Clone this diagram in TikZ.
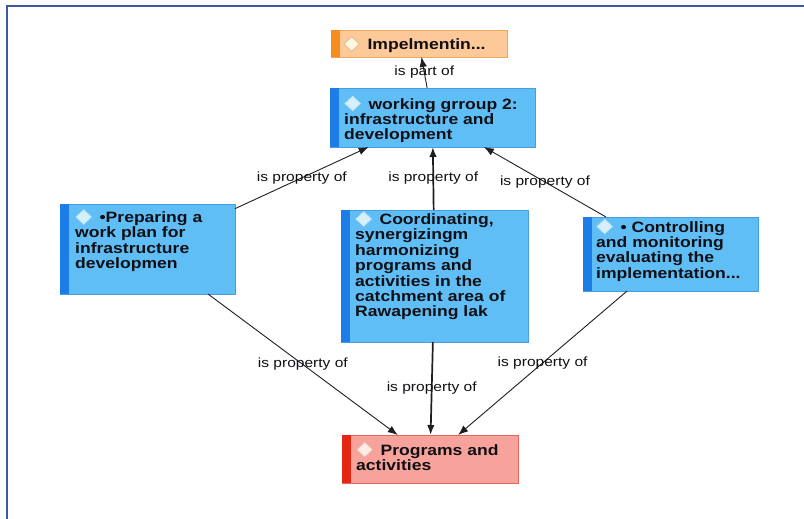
\documentclass[tikz,border=0pt]{standalone}
\usepackage{fontspec}
\usetikzlibrary{arrows.meta}
\newfontfamily\bxf[FakeStretch=1.17]{Liberation Sans}
\definecolor{blfill}{RGB}{96,190,246}
\definecolor{blborder}{RGB}{70,158,225}
\definecolor{blbar}{RGB}{28,124,232}
\definecolor{orfill}{RGB}{253,201,152}
\definecolor{orborder}{RGB}{240,165,95}
\definecolor{orbar}{RGB}{246,140,30}
\definecolor{rdfill}{RGB}{247,162,154}
\definecolor{rdborder}{RGB}{226,104,92}
\definecolor{rdbar}{RGB}{226,40,20}
\definecolor{framec}{RGB}{58,90,158}
\definecolor{linec}{RGB}{30,30,30}
\definecolor{txtc}{RGB}{15,15,20}
\definecolor{dblfill}{RGB}{214,240,250}
\definecolor{dbldraw}{RGB}{185,225,242}
\definecolor{dorfill}{RGB}{255,246,224}
\definecolor{dordraw}{RGB}{212,188,140}
\definecolor{drdfill}{RGB}{255,236,230}
\definecolor{drddraw}{RGB}{228,196,186}
\newcommand{\dia}[2]{\tikz[baseline=0pt]{\path[use as bounding box] (0pt,-2pt) rectangle (19.5pt,13pt);\draw[fill=#1,draw=#2,line width=0.7pt] (8.5pt,-1.8pt) -- (16.3pt,5.5pt) -- (8.5pt,12.8pt) -- (0.7pt,5.5pt) -- cycle;}}
\begin{document}
\begin{tikzpicture}[x=1pt,y=-1pt,
  box/.style={draw=#1border, fill=#1fill, line width=0.7pt, anchor=north west, inner sep=0pt, outer sep=0pt},
  btxt/.style={anchor=base west, inner sep=0pt, align=left, text=txtc, font=\bxf\bfseries\fontsize{15}{15.4}\selectfont},
  conn/.style={draw=linec, line width=0.9pt, -{Latex[length=10pt,width=7.5pt]}},
  conn2/.style={conn, line width=1.7pt},
  lab/.style={font=\bxf\fontsize{13.3}{15}\selectfont, text=txtc, inner sep=1pt}]
\useasboundingbox (0,0) rectangle (804,519);
% frame
\draw[framec, line width=2.5pt] (7,519) -- (7,6) -- (804,6);
% boxes
\node[box=or, minimum width=176, minimum height=27] (imp) at (331,30) {};
\node[box=bl, minimum width=205, minimum height=59] (wg) at (330,88) {};
\node[box=bl, minimum width=175, minimum height=90] (lb) at (60,204) {};
\node[box=bl, minimum width=187, minimum height=132] (cb) at (341,210) {};
\node[box=bl, minimum width=175, minimum height=74] (rb) at (583,217) {};
\node[box=rd, minimum width=176, minimum height=48] (bb) at (342,435) {};
% bars
\fill[orbar] (imp.north west) rectangle ([xshift=9pt]imp.south west);
\fill[blbar] (wg.north west) rectangle ([xshift=9pt]wg.south west);
\fill[blbar] (lb.north west) rectangle ([xshift=9pt]lb.south west);
\fill[blbar] (cb.north west) rectangle ([xshift=9pt]cb.south west);
\fill[blbar] (rb.north west) rectangle ([xshift=9pt]rb.south west);
\fill[rdbar] (bb.north west) rectangle ([xshift=9pt]bb.south west);
% texts (anchored at the baseline of the last line)
\node[btxt] (impt) at (343,49.5) {\dia{dorfill}{dordraw} Impelmentin...};
\node[btxt] (wgt) at (344,139.8) {\dia{dblfill}{dbldraw} working grroup 2:\\infrastructure and\\development};
\node[btxt] (lbt) at (75,268.7) {\dia{dblfill}{dbldraw} •Preparing a\\work plan for\\infrastructure\\developmen};
\node[btxt] (cbt) at (355,316.9) {\dia{dblfill}{dbldraw} Coordinating,\\synergizingm\\harmonizing\\programs and\\activities in the\\catchment area of\\Rawapening lak};
\node[btxt] (rbt) at (596,278.2) {\dia{dblfill}{dbldraw} • Controlling\\and monitoring\\evaluating the\\implementation...};
\node[btxt] (bbt) at (356,470.5) {\dia{drdfill}{drddraw} Programs and\\activities};
% connectors
\draw[conn] (wg) -- node[lab] (l0) {is part of} (imp);
\draw[conn] (lb) -- node[lab] (l1) {is property of} (wg);
\draw[conn2] (cb) -- node[lab] (l2) {is property of} (wg);
\draw[conn] (rb) -- node[lab] (l3) {is property of} (wg);
\draw[conn] (lb) -- node[lab] (l4) {is property of} (bb);
\draw[conn2] (cb) -- node[lab] (l5) {is property of} (bb);
\draw[conn] (rb) -- node[lab] (l6) {is property of} (bb);
\end{tikzpicture}
\end{document}
